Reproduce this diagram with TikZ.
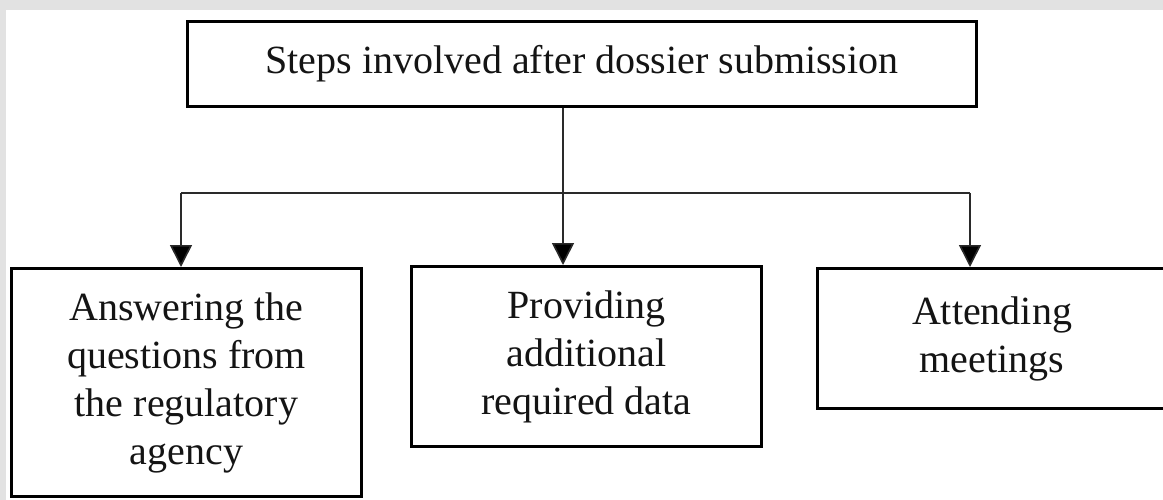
\documentclass[tikz,border=0pt]{standalone}
\usepackage{fontspec}
\setmainfont{Liberation Serif}
\usetikzlibrary{arrows.meta}
\definecolor{framegray}{HTML}{E2E2E2}
\definecolor{linegray}{HTML}{2A2A2A}
\tikzset{
  stepbox/.style={draw=black, line width=3pt, fill=white, inner sep=0pt,
    align=center, font=\fontsize{40}{48}\selectfont, text=black!92},
  conn/.style={draw=linegray, line width=1.6pt},
  arr/.style={conn, -{Triangle[width=22pt,length=22pt,fill=black]}}
}
\begin{document}
\begin{tikzpicture}[x=1pt,y=-1pt]
\useasboundingbox (0,0) rectangle (1163,500);
\fill[framegray] (0,0) rectangle (1163,500);
\fill[white] (6,10) rectangle (1163,500);

\node[stepbox, minimum width=789pt, minimum height=85pt] (top) at (582,64)
  {Steps involved after dossier submission};
\node[stepbox, minimum width=350pt, minimum height=228pt] (left) at (186.5,382.5)
  {Answering the\\questions from\\the regulatory\\agency};
\node[stepbox, minimum width=350pt, minimum height=180pt] (mid) at (586.5,356.5)
  {Providing\\additional\\required data};
\node[stepbox, minimum width=350pt, minimum height=140pt] (right) at (992,338.5)
  {Attending\\meetings};

\coordinate (hl) at (181,193);
\coordinate (hr) at (970,193);
\coordinate (hm) at (563,193);

\draw[conn] (hl) -- (hr);
\draw[arr] (top.south -| hm) -- (mid.north -| hm);
\draw[arr] (hl) -- (hl |- left.north);
\draw[arr] (hr) -- (hr |- right.north);
\end{tikzpicture}
\end{document}
